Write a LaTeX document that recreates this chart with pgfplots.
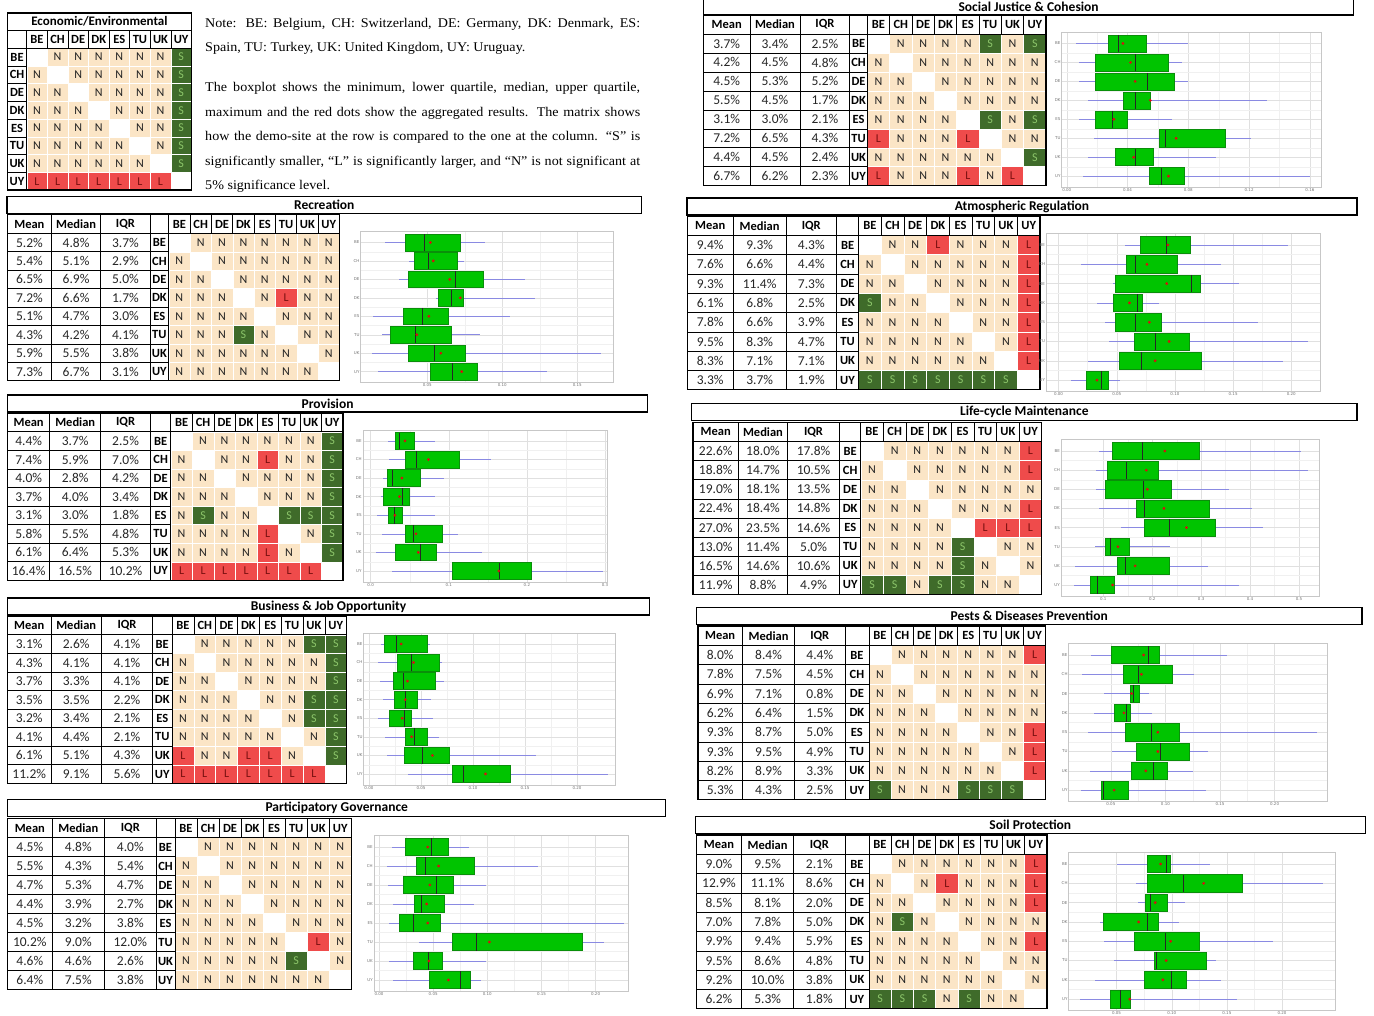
\documentclass[border=0pt]{standalone}
\usepackage{pgfplots}
\pgfplotsset{compat=1.18}
\usepgfplotslibrary{statistics}
\usepackage{fontspec}
\setmainfont{Liberation Serif}
\newfontfamily\notefont[FakeStretch=1.06]{Liberation Serif}
\newfontfamily\calfont{Carlito}
\newfontfamily\tks{DejaVu Sans}

% matrix colours: N = not significant, S = smaller, L = larger, X = diagonal
\definecolor{cN}{HTML}{FBE5C6}
\definecolor{cS}{HTML}{3F6B2A}
\definecolor{cL}{HTML}{EF4B4B}
\definecolor{cX}{HTML}{FFFFFF}
\definecolor{tN}{HTML}{222222}
\definecolor{tS}{HTML}{8CC56A}
\definecolor{tL}{HTML}{7A1010}
\definecolor{tX}{HTML}{FFFFFF}
\definecolor{bgreen}{HTML}{00C400}
\definecolor{bedge}{HTML}{0A8F0A}
\definecolor{wcol}{HTML}{8A8AE2}
\definecolor{mred}{HTML}{D81010}
\def\lN{N}\def\lS{S}\def\lL{L}\def\lX{}

\tikzset{
  hd/.style={inner sep=0, font=\calfont\bfseries\fontsize{12.5}{13}\selectfont},
  nm/.style={inner sep=0, font=\calfont\fontsize{13.5}{14}\selectfont, text=black!85},
  lt/.style={inner sep=0, font=\calfont\fontsize{12}{13}\selectfont},
  notef/.style={anchor=base west, inner sep=0, font=\notefont\fontsize{13.3}{14}\selectfont},
}

\pgfplotsset{
  bp/.style={
    scale only axis, anchor=south west,
    y dir=reverse, ymin=-0.6, ymax=7.6,
    ytick={0,...,7}, yticklabels={BE,CH,DE,DK,ES,TU,UK,UY},
    minor x tick num=1, minor y tick num=1,
    grid=both,
    major grid style={black!12, line width=0.4pt},
    minor grid style={black!6, line width=0.3pt},
    axis line style={black!22, line width=0.5pt},
    tick style={draw=none},
    tick label style={font=\tks\fontsize{4}{4.5}\selectfont, text=black!55, inner sep=1pt},
    scaled x ticks=false,
    xticklabel style={/pgf/number format/.cd, fixed, fixed zerofill, precision=2, assume math mode=true},
    boxplot/draw direction=x,
    boxplot/box extend=0.9,
    boxplot/whisker extend=0,
    boxplot/every box/.style={draw=bedge, fill=bgreen, line width=0.5pt},
    boxplot/every whisker/.style={draw=wcol, line width=0.6pt},
    boxplot/every median/.style={draw=black!85, line width=0.7pt},
  },
  meanmk/.style={only marks, mark=*, mark size=1.2pt, mred, mark options={draw=none, fill=mred}},
}

% one box: position, lower whisker, lower quartile, median, upper quartile, upper whisker
\newcommand\bx[6]{\addplot[boxplot prepared={draw position=#1, lower whisker=#2,
  lower quartile=#3, median=#4, upper quartile=#5, upper whisker=#6}] coordinates {};}

\newcommand\setcols[6]{\def\xa{#1}\def\xb{#2}\def\xc{#3}\def\xd{#4}\def\xe{#5}\def\xf{#6}}

% title, title bar x0, x1, title centre y, first row centre y, row height; rows in \rows
\newcommand\statpanel[6]{%
  \draw[line width=1.2pt, fill=white] (#2,#4-8.5) rectangle (#3,#4+8.5);
  \node[hd, font=\calfont\bfseries\fontsize{13.5}{14}\selectfont] at ({(#2+#3)/2},#4) {#1};
  \pgfmathsetmacro\cw{(\xf-\xe)/8}
  \pgfmathsetmacro\tp{#5-1.5*#6}
  \pgfmathsetmacro\bt{#5+7.5*#6}
  \node[hd] at ({(\xa+\xb)/2},{#5-#6}) {Mean};
  \node[hd] at ({(\xb+\xc)/2},{#5-#6}) {Median};
  \node[hd] at ({(\xc+\xd)/2},{#5-#6}) {IQR};
  \foreach \h [count=\j from 0] in {BE,CH,DE,DK,ES,TU,UK,UY}
    \node[hd] at ({\xe+(\j+0.5)*\cw},{#5-#6}) {\h};
  \foreach \mn/\md/\iq/\lab/\cells [count=\i from 0] in \rows {
    \pgfmathsetmacro\yy{#5+\i*#6}
    \node[nm] at ({(\xa+\xb)/2},\yy) {\mn\%};
    \node[nm] at ({(\xb+\xc)/2},\yy) {\md\%};
    \node[nm] at ({(\xc+\xd)/2},\yy) {\iq\%};
    \node[hd] at ({(\xd+\xe)/2},\yy) {\lab};
    \foreach \c [count=\j from 0] in \cells {
      \filldraw[fill=c\c, draw=white, line width=0.4pt]
        ({\xe+\j*\cw},{\yy-#6/2}) rectangle ++(\cw,#6);
      \node[lt, text=t\c] at ({\xe+(\j+0.5)*\cw},\yy) {\csname l\c\endcsname};
    }
  }
  \draw[line width=0.6pt] (\xa,{\tp+#6}) -- (\xf,{\tp+#6});
  \foreach \k in {2,...,8}
    \draw[line width=0.5pt] (\xa,{\tp+\k*#6}) -- (\xe,{\tp+\k*#6});
  \foreach \xx in {\xb,\xc,\xd,\xe}
    \draw[line width=0.7pt] (\xx,\tp) -- (\xx,\bt);
  \foreach \j in {1,...,7}
    \draw[line width=0.6pt] ({\xe+\j*\cw},\tp) -- ({\xe+\j*\cw},{\tp+#6});
  \draw[line width=1.2pt] (\xa,\tp) rectangle (\xf,\bt);
}

\begin{document}
\begin{tikzpicture}
\useasboundingbox (0,0) rectangle (1374pt,-1016pt);

\begin{scope}[x=1pt,y=-1pt]
% ---- key matrix
\def\la{7.4}\def\lb{26.7}\def\lc{191.4}
\pgfmathsetmacro\cw{(\lc-\lb)/8}
\node[hd, font=\calfont\bfseries\fontsize{13}{14}\selectfont] at ({(\la+\lc)/2},21.7) {Economic/Environmental};
\foreach \h [count=\j from 0] in {BE,CH,DE,DK,ES,TU,UK,UY}
  \node[hd] at ({\lb+(\j+0.5)*\cw},39.25) {\h};
\foreach \lab/\cells [count=\i from 0] in {
  BE/{X,N,N,N,N,N,N,S}, CH/{N,X,N,N,N,N,N,S}, DE/{N,N,X,N,N,N,N,S}, DK/{N,N,N,X,N,N,N,S},
  ES/{N,N,N,N,X,N,N,S}, TU/{N,N,N,N,N,X,N,S}, UK/{N,N,N,N,N,N,X,S}, UY/{L,L,L,L,L,L,L,X}} {
  \pgfmathsetmacro\yy{57+\i*17.75}
  \node[hd] at ({(\la+\lb)/2},\yy) {\lab};
  \foreach \c [count=\j from 0] in \cells {
    \filldraw[fill=c\c, draw=white, line width=0.4pt] ({\lb+\j*\cw},{\yy-8.875}) rectangle ++(\cw,17.75);
    \node[lt, text=t\c] at ({\lb+(\j+0.5)*\cw},\yy) {\csname l\c\endcsname};
  }
}
\draw[line width=0.6pt] (\la,30.4) -- (\lc,30.4);
\draw[line width=0.6pt] (\la,48.1) -- (\lc,48.1);
\foreach \k in {1,...,7} \draw[line width=0.5pt] (\la,{48.1+\k*17.75}) -- (\lb,{48.1+\k*17.75});
\draw[line width=0.7pt] (\lb,30.4) -- (\lb,190.1);
\foreach \j in {1,...,7} \draw[line width=0.6pt] ({\lb+\j*\cw},30.4) -- ({\lb+\j*\cw},48.1);
\draw[line width=1.2pt] (\la,13) rectangle (\lc,190.1);

% ---- note
\node[notef] at (205,27.5) {\makebox[435pt][s]{Note: BE: Belgium, CH: Switzerland, DE: Germany, DK: Denmark, ES:}};
\node[notef] at (205,52) {\makebox[435pt][l]{Spain, TU: Turkey, UK: United Kingdom, UY: Uruguay.}};
\node[notef] at (205,92) {\makebox[435pt][s]{The boxplot shows the minimum, lower quartile, median, upper quartile,}};
\node[notef] at (205,116.5) {\makebox[435pt][s]{maximum and the red dots show the aggregated results. The matrix shows}};
\node[notef] at (205,141) {\makebox[435pt][s]{how the demo-site at the row is compared to the one at the column. “S” is}};
\node[notef] at (205,165.5) {\makebox[435pt][s]{significantly smaller, “L” is significantly larger, and “N” is not significant at}};
\node[notef] at (205,190) {\makebox[435pt][l]{5\% significance level.}};

% ---- Recreation
\setcols{7.4}{51.4}{100.8}{150.1}{168.7}{339.4}
\def\rows{5.2/4.8/3.7/BE/{X,N,N,N,N,N,N,N}, 5.4/5.1/2.9/CH/{N,X,N,N,N,N,N,N},
  6.5/6.9/5.0/DE/{N,N,X,N,N,N,N,N}, 7.2/6.6/1.7/DK/{N,N,N,X,N,L,N,N},
  5.1/4.7/3.0/ES/{N,N,N,N,X,N,N,N}, 4.3/4.2/4.1/TU/{N,N,N,S,N,X,N,N},
  5.9/5.5/3.8/UK/{N,N,N,N,N,N,X,N}, 7.3/6.7/3.1/UY/{N,N,N,N,N,N,N,X}}
\statpanel{Recreation}{7}{641.7}{205}{242.5}{18.45}

% ---- Provision
\setcols{7.5}{49.8}{100.7}{150.5}{170.8}{342.9}
\def\rows{4.4/3.7/2.5/BE/{X,N,N,N,N,N,N,S}, 7.4/5.9/7.0/CH/{N,X,N,N,L,N,N,S},
  4.0/2.8/4.2/DE/{N,N,X,N,N,N,N,S}, 3.7/4.0/3.4/DK/{N,N,N,X,N,N,N,S},
  3.1/3.0/1.8/ES/{N,S,N,N,X,S,S,S}, 5.8/5.5/4.8/TU/{N,N,N,N,L,X,N,S},
  6.1/6.4/5.3/UK/{N,N,N,N,L,N,X,S}, 16.4/16.5/10.2/UY/{L,L,L,L,L,L,L,X}}
\statpanel{Provision}{7.5}{647.6}{403.5}{441}{18.57}

% ---- Business & Job Opportunity
\setcols{7.5}{51}{101.5}{152.5}{172}{346.7}
\def\rows{3.1/2.6/4.1/BE/{X,N,N,N,N,N,S,S}, 4.3/4.1/4.1/CH/{N,X,N,N,N,N,N,S},
  3.7/3.3/4.1/DE/{N,N,X,N,N,N,N,S}, 3.5/3.5/2.2/DK/{N,N,N,X,N,N,S,S},
  3.2/3.4/2.1/ES/{N,N,N,N,X,N,S,S}, 4.1/4.4/2.1/TU/{N,N,N,N,N,X,N,S},
  6.1/5.1/4.3/UK/{L,N,N,L,L,N,X,S}, 11.2/9.1/5.6/UY/{L,L,L,L,L,L,L,X}}
\statpanel{Business \& Job Opportunity}{7.5}{649.5}{606.5}{644}{18.57}

% ---- Participatory Governance
\setcols{7.7}{52}{104.7}{156}{175}{351.3}
\def\rows{4.5/4.8/4.0/BE/{X,N,N,N,N,N,N,N}, 5.5/4.3/5.4/CH/{N,X,N,N,N,N,N,N},
  4.7/5.3/4.7/DE/{N,N,X,N,N,N,N,N}, 4.4/3.9/2.7/DK/{N,N,N,X,N,N,N,N},
  4.5/3.2/3.8/ES/{N,N,N,N,X,N,N,N}, 10.2/9.0/12.0/TU/{N,N,N,N,N,X,L,N},
  4.6/4.6/2.6/UK/{N,N,N,N,N,S,X,N}, 6.4/7.5/3.8/UY/{N,N,N,N,N,N,N,X}}
\statpanel{Participatory Governance}{7.7}{665.8}{808}{847}{19}

% ---- Social Justice & Cohesion
\setcols{703.5}{750}{800}{849.8}{867.3}{1046}
\def\rows{3.7/3.4/2.5/BE/{X,N,N,N,N,S,N,S}, 4.2/4.5/4.8/CH/{N,X,N,N,N,N,N,N},
  4.5/5.3/5.2/DE/{N,N,X,N,N,N,N,N}, 5.5/4.5/1.7/DK/{N,N,N,X,N,N,N,N},
  3.1/3.0/2.1/ES/{N,N,N,N,X,S,N,S}, 7.2/6.5/4.3/TU/{L,N,N,N,L,X,N,N},
  4.4/4.5/2.4/UK/{N,N,N,N,N,N,X,S}, 6.7/6.2/2.3/UY/{L,N,N,N,L,N,L,X}}
\statpanel{Social Justice \& Cohesion}{703.5}{1353.7}{6.5}{43.5}{18.95}

% ---- Atmospheric Regulation
\setcols{687.2}{733.3}{786}{836.6}{858.5}{1040}
\def\rows{9.4/9.3/4.3/BE/{X,N,N,L,N,N,N,L}, 7.6/6.6/4.4/CH/{N,X,N,N,N,N,N,L},
  9.3/11.4/7.3/DE/{N,N,X,N,N,N,N,L}, 6.1/6.8/2.5/DK/{S,N,N,X,N,N,N,L},
  7.8/6.6/3.9/ES/{N,N,N,N,X,N,N,L}, 9.5/8.3/4.7/TU/{N,N,N,N,N,X,N,L},
  8.3/7.1/7.1/UK/{N,N,N,N,N,N,X,L}, 3.3/3.7/1.9/UY/{S,S,S,S,S,S,S,X}}
\statpanel{Atmospheric Regulation}{687}{1357}{206.5}{245}{19.3}

% ---- Life-cycle Maintenance
\setcols{692.9}{738.6}{787.4}{839.7}{860.7}{1041.8}
\def\rows{22.6/18.0/17.8/BE/{X,N,N,N,N,N,N,L}, 18.8/14.7/10.5/CH/{N,X,N,N,N,N,N,L},
  19.0/18.1/13.5/DE/{N,N,X,N,N,N,N,N}, 22.4/18.4/14.8/DK/{N,N,N,X,N,N,N,L},
  27.0/23.5/14.6/ES/{N,N,N,N,X,L,L,L}, 13.0/11.4/5.0/TU/{N,N,N,N,S,X,N,N},
  16.5/14.6/10.6/UK/{N,N,N,N,S,N,X,N}, 11.9/8.8/4.9/UY/{S,S,N,S,S,N,N,X}}
\statpanel{Life-cycle Maintenance}{691.6}{1357}{412}{451}{19.14}

% ---- Pests & Diseases Prevention
\setcols{697.9}{742.4}{794.7}{844.9}{868.9}{1045.6}
\def\rows{8.0/8.4/4.4/BE/{X,N,N,N,N,N,N,L}, 7.8/7.5/4.5/CH/{N,X,N,N,N,N,N,N},
  6.9/7.1/0.8/DE/{N,N,X,N,N,N,N,N}, 6.2/6.4/1.5/DK/{N,N,N,X,N,N,N,N},
  9.3/8.7/5.0/ES/{N,N,N,N,X,N,N,L}, 9.3/9.5/4.9/TU/{N,N,N,N,N,X,N,L},
  8.2/8.9/3.3/UK/{N,N,N,N,N,N,X,L}, 5.3/4.3/2.5/UY/{S,N,N,N,S,S,S,X}}
\statpanel{Pests \& Diseases Prevention}{696.5}{1361.9}{616}{655}{19.3}

% ---- Soil Protection
\setcols{696.5}{741.5}{793.8}{844.9}{868.9}{1046.9}
\def\rows{9.0/9.5/2.1/BE/{X,N,N,N,N,N,N,L}, 12.9/11.1/8.6/CH/{N,X,N,L,N,N,N,L},
  8.5/8.1/2.0/DE/{N,N,X,N,N,N,N,L}, 7.0/7.8/5.0/DK/{N,S,N,X,N,N,N,N},
  9.9/9.4/5.9/ES/{N,N,N,N,X,N,N,L}, 9.5/8.6/4.8/TU/{N,N,N,N,N,X,N,N},
  9.2/10.0/3.8/UK/{N,N,N,N,N,N,X,N}, 6.2/5.3/1.8/UY/{S,S,S,N,S,N,N,X}}
\statpanel{Soil Protection}{695.2}{1365.4}{825}{864}{19.3}
\end{scope}

% ================= boxplots
% Recreation
\begin{axis}[bp, at={(360.7pt,-382.7pt)}, width=252.6pt, height=151.3pt,
  xmin=0.0056, xmax=0.174, xtick={0.05,0.10,0.15}]
\bx{0}{0.022}{0.035}{0.048}{0.072}{0.0885}
\bx{1}{0.038}{0.041}{0.051}{0.070}{0.0745}
\bx{2}{0.031}{0.037}{0.069}{0.087}{0.115}
\bx{3}{0.056}{0.057}{0.066}{0.074}{0.122}
\bx{4}{0.014}{0.034}{0.047}{0.064}{0.105}
\bx{5}{0.020}{0.025}{0.042}{0.066}{0.085}
\bx{6}{0.013}{0.037}{0.055}{0.075}{0.166}
\bx{7}{0.017}{0.052}{0.067}{0.083}{0.130}
\addplot[meanmk] coordinates {(0.052,0) (0.054,1) (0.065,2) (0.072,3) (0.051,4) (0.043,5) (0.059,6) (0.073,7)};
\end{axis}

% Provision
\begin{axis}[bp, at={(362.8pt,-582.1pt)}, width=244.6pt, height=152.3pt,
  xmin=-0.010, xmax=0.303, xtick={0,0.1,0.2,0.3},
  xticklabel style={/pgf/number format/precision=1}]
\bx{0}{0.022}{0.031}{0.037}{0.056}{0.083}
\bx{1}{0.024}{0.044}{0.059}{0.114}{0.154}
\bx{2}{0.016}{0.021}{0.028}{0.063}{0.094}
\bx{3}{0.013}{0.016}{0.040}{0.050}{0.083}
\bx{4}{0.008}{0.022}{0.030}{0.040}{0.082}
\bx{5}{0.014}{0.044}{0.055}{0.092}{0.112}
\bx{6}{0.007}{0.031}{0.064}{0.084}{0.143}
\bx{7}{0.028}{0.104}{0.165}{0.206}{0.298}
\addplot[meanmk] coordinates {(0.044,0) (0.074,1) (0.040,2) (0.037,3) (0.031,4) (0.058,5) (0.061,6) (0.164,7)};
\end{axis}

% Business & Job Opportunity
\begin{axis}[bp, at={(363.7pt,-785.1pt)}, width=251.9pt, height=152.3pt,
  xmin=-0.005, xmax=0.237, xtick={0,0.05,0.10,0.15,0.20}]
\bx{0}{0.012}{0.015}{0.026}{0.056}{0.059}
\bx{1}{0.009}{0.027}{0.041}{0.068}{0.070}
\bx{2}{0.011}{0.023}{0.033}{0.064}{0.072}
\bx{3}{0.014}{0.024}{0.035}{0.046}{0.060}
\bx{4}{0.009}{0.020}{0.034}{0.041}{0.062}
\bx{5}{0.015}{0.035}{0.044}{0.056}{0.067}
\bx{6}{0.017}{0.034}{0.051}{0.077}{0.161}
\bx{7}{0.038}{0.080}{0.091}{0.136}{0.230}
\addplot[meanmk] coordinates {(0.031,0) (0.043,1) (0.037,2) (0.035,3) (0.032,4) (0.041,5) (0.061,6) (0.112,7)};
\end{axis}

% Participatory Governance
\begin{axis}[bp, at={(373.9pt,-991.4pt)}, width=254.3pt, height=155.8pt,
  xmin=-0.0047, xmax=0.2301, xtick={0,0.05,0.10,0.15,0.20}]
\bx{0}{0.012}{0.024}{0.048}{0.064}{0.083}
\bx{1}{0.007}{0.034}{0.043}{0.088}{0.147}
\bx{2}{0.008}{0.022}{0.053}{0.069}{0.099}
\bx{3}{0.013}{0.033}{0.039}{0.060}{0.088}
\bx{4}{0.009}{0.019}{0.032}{0.057}{0.226}
\bx{5}{0.037}{0.068}{0.090}{0.188}{0.208}
\bx{6}{0.009}{0.032}{0.046}{0.058}{0.099}
\bx{7}{0.013}{0.046}{0.075}{0.084}{0.094}
\addplot[meanmk] coordinates {(0.045,0) (0.055,1) (0.047,2) (0.044,3) (0.045,4) (0.102,5) (0.046,6) (0.064,7)};
\end{axis}

% Social Justice & Cohesion
\begin{axis}[bp, at={(1061.7pt,-187.5pt)}, width=259.3pt, height=155.4pt,
  xmin=-0.0033, xmax=0.1673, xtick={0,0.04,0.08,0.12,0.16}]
\bx{0}{0.006}{0.027}{0.034}{0.052}{0.080}
\bx{1}{0.008}{0.019}{0.045}{0.067}{0.076}
\bx{2}{0.008}{0.019}{0.053}{0.071}{0.080}
\bx{3}{0.014}{0.037}{0.045}{0.055}{0.132}
\bx{4}{0.008}{0.019}{0.030}{0.040}{0.069}
\bx{5}{0.018}{0.061}{0.065}{0.104}{0.121}
\bx{6}{0.014}{0.032}{0.045}{0.057}{0.098}
\bx{7}{0.011}{0.054}{0.062}{0.077}{0.160}
\addplot[meanmk] coordinates {(0.037,0) (0.042,1) (0.045,2) (0.055,3) (0.031,4) (0.072,5) (0.044,6) (0.067,7)};
\end{axis}

% Atmospheric Regulation
\begin{axis}[bp, at={(1046.2pt,-391.7pt)}, width=273.7pt, height=158.3pt,
  xmin=-0.0106, xmax=0.2246, xtick={0,0.05,0.10,0.15,0.20}]
\bx{0}{0.057}{0.070}{0.093}{0.113}{0.197}
\bx{1}{0.019}{0.058}{0.066}{0.102}{0.140}
\bx{2}{0.047}{0.049}{0.114}{0.122}{0.155}
\bx{3}{0.033}{0.047}{0.068}{0.072}{0.086}
\bx{4}{0.040}{0.049}{0.066}{0.088}{0.171}
\bx{5}{0.043}{0.065}{0.083}{0.112}{0.214}
\bx{6}{0.025}{0.052}{0.071}{0.123}{0.193}
\bx{7}{0.011}{0.024}{0.037}{0.043}{0.053}
\addplot[meanmk] coordinates {(0.094,0) (0.076,1) (0.093,2) (0.061,3) (0.078,4) (0.095,5) (0.083,6) (0.033,7)};
\end{axis}

% Life-cycle Maintenance
\begin{axis}[bp, at={(1061pt,-596.5pt)}, width=258pt, height=157pt,
  xmin=0.0135, xmax=0.541, xtick={0.1,0.2,0.3,0.4,0.5},
  xticklabel style={/pgf/number format/precision=1}]
\bx{0}{0.091}{0.119}{0.180}{0.297}{0.504}
\bx{1}{0.085}{0.108}{0.147}{0.213}{0.519}
\bx{2}{0.085}{0.104}{0.181}{0.239}{0.356}
\bx{3}{0.092}{0.168}{0.184}{0.316}{0.404}
\bx{4}{0.136}{0.183}{0.235}{0.329}{0.427}
\bx{5}{0.083}{0.104}{0.114}{0.154}{0.236}
\bx{6}{0.042}{0.129}{0.146}{0.235}{0.315}
\bx{7}{0.040}{0.073}{0.088}{0.122}{0.378}
\addplot[meanmk] coordinates {(0.226,0) (0.188,1) (0.190,2) (0.224,3) (0.270,4) (0.130,5) (0.165,6) (0.119,7)};
\end{axis}

% Pests & Diseases Prevention
\begin{axis}[bp, at={(1068.7pt,-801.7pt)}, width=258.3pt, height=158.3pt,
  xmin=0.0114, xmax=0.248, xtick={0.05,0.10,0.15,0.20}]
\bx{0}{0.032}{0.050}{0.084}{0.094}{0.156}
\bx{1}{0.024}{0.061}{0.075}{0.106}{0.126}
\bx{2}{0.044}{0.068}{0.071}{0.076}{0.085}
\bx{3}{0.035}{0.053}{0.064}{0.068}{0.088}
\bx{4}{0.029}{0.063}{0.087}{0.113}{0.239}
\bx{5}{0.051}{0.073}{0.095}{0.122}{0.139}
\bx{6}{0.031}{0.069}{0.089}{0.102}{0.125}
\bx{7}{0.023}{0.041}{0.043}{0.066}{0.137}
\addplot[meanmk] coordinates {(0.080,0) (0.078,1) (0.069,2) (0.062,3) (0.093,4) (0.093,5) (0.082,6) (0.053,7)};
\end{axis}

% Soil Protection
\begin{axis}[bp, at={(1068.7pt,-1010.7pt)}, width=266.2pt, height=158.3pt,
  xmin=0.0066, xmax=0.248, xtick={0.05,0.10,0.15,0.20}]
\bx{0}{0.050}{0.078}{0.095}{0.099}{0.135}
\bx{1}{0.068}{0.078}{0.111}{0.164}{0.237}
\bx{2}{0.069}{0.076}{0.081}{0.096}{0.112}
\bx{3}{0.035}{0.038}{0.078}{0.088}{0.107}
\bx{4}{0.039}{0.066}{0.094}{0.125}{0.192}
\bx{5}{0.048}{0.084}{0.086}{0.131}{0.140}
\bx{6}{0.030}{0.075}{0.100}{0.113}{0.145}
\bx{7}{0.017}{0.044}{0.053}{0.062}{0.159}
\addplot[meanmk] coordinates {(0.090,0) (0.129,1) (0.085,2) (0.070,3) (0.099,4) (0.095,5) (0.092,6) (0.062,7)};
\end{axis}
\end{tikzpicture}
\end{document}
